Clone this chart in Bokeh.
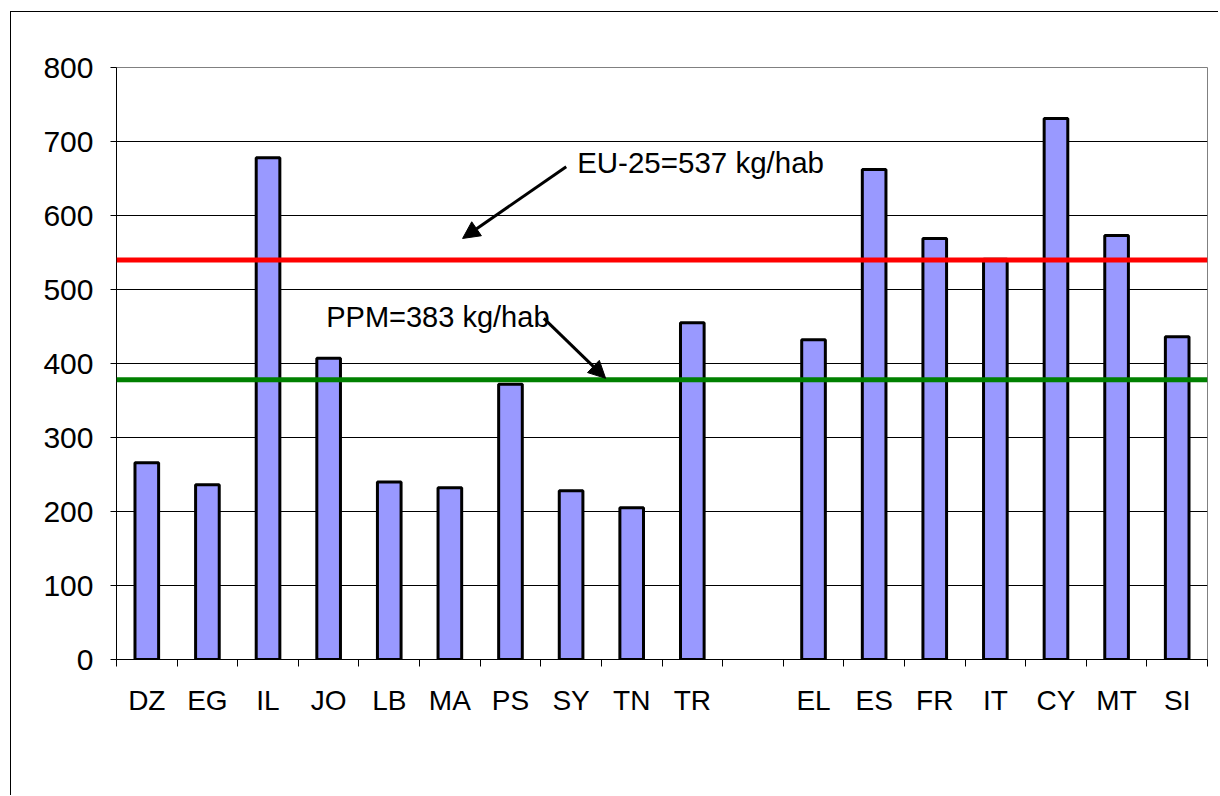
from bokeh.plotting import figure
from bokeh.models import FixedTicker, Arrow, NormalHead, Span, Label, Range1d
from bokeh.embed import file_html
from bokeh.resources import INLINE

# ---- data ----
countries = ["DZ", "EG", "IL", "JO", "LB", "MA", "PS", "SY", "TN", "TR", "",
             "EL", "ES", "FR", "IT", "CY", "MT", "SI"]
values = [266, 236, 678, 407, 240, 232, 372, 228, 205, 455, None,
          432, 662, 569, 541, 731, 573, 436]
eu_level = 540
ppm_level = 378
eu_label = "EU-25=537 kg/hab"
ppm_label = "PPM=383 kg/hab"
y_ticks = [0, 100, 200, 300, 400, 500, 600, 700, 800]

FONT = "Liberation Sans"

n = len(countries)
xs = [i + 0.5 for i, v in enumerate(values) if v is not None]
tops = [v for v in values if v is not None]

p = figure(width=1208, height=784, output_backend="svg", toolbar_location=None,
           min_border_left=105, min_border_right=12, min_border_top=55,
           min_border_bottom=137,
           x_range=Range1d(0, n), y_range=Range1d(0, 800))
p.styles = {"border-left": "1px solid black", "border-top": "1px solid black",
            "margin-left": "10px", "margin-top": "11px"}
p.background_fill_color = "white"
p.border_fill_color = "white"
p.outline_line_color = "#808080"
p.outline_line_width = 1

p.vbar(x=xs, top=tops, width=0.39, bottom=0, fill_color="#9999FF",
       line_color="black", line_width=3)

p.add_layout(Span(location=eu_level, dimension="width", line_color="#FF0000", line_width=5))
p.add_layout(Span(location=ppm_level, dimension="width", line_color="#008000", line_width=5))

# x axis
label_ticks = [i + 0.5 for i, c in enumerate(countries) if c]
p.xaxis.ticker = FixedTicker(ticks=label_ticks, minor_ticks=list(range(n + 1)))
p.xaxis.major_label_overrides = {i + 0.5: c for i, c in enumerate(countries) if c}
p.xaxis.major_tick_out = 0
p.xaxis.major_tick_in = 0
p.xaxis.minor_tick_out = 7
p.xaxis.minor_tick_in = 0
p.xaxis.minor_tick_line_color = "black"
p.xaxis.axis_line_color = "black"
p.xaxis.major_label_standoff = 18
p.xaxis.major_label_text_font = FONT
p.xaxis.major_label_text_font_size = "28px"
p.xaxis.major_label_text_color = "black"

# y axis
p.yaxis.ticker = FixedTicker(ticks=y_ticks)
p.yaxis.major_tick_out = 6
p.yaxis.major_tick_in = 0
p.yaxis.minor_tick_line_color = None
p.yaxis.axis_line_color = "black"
p.yaxis.major_label_standoff = 17
p.yaxis.major_label_text_font = FONT
p.yaxis.major_label_text_font_size = "30px"
p.yaxis.major_label_text_color = "black"

p.xgrid.grid_line_color = None
p.ygrid.ticker = FixedTicker(ticks=y_ticks)
p.ygrid.grid_line_color = "black"
p.ygrid.grid_line_width = 1

# annotations
p.add_layout(Label(x=7.6, y=671, text=eu_label, text_font=FONT, text_font_size="29.5px",
                   text_baseline="alphabetic", text_color="black"))
p.add_layout(Label(x=3.46, y=463, text=ppm_label, text_font=FONT, text_font_size="29px",
                   text_baseline="alphabetic", text_color="black"))
p.add_layout(Arrow(end=NormalHead(size=17, fill_color="black", line_color="black"),
                   x_start=7.42, y_start=666, x_end=5.71, y_end=569,
                   line_color="black", line_width=3))
p.add_layout(Arrow(end=NormalHead(size=17, fill_color="black", line_color="black"),
                   x_start=7.05, y_start=461, x_end=8.07, y_end=380,
                   line_color="black", line_width=3))

open("out.html", "w").write(file_html(p, INLINE))
